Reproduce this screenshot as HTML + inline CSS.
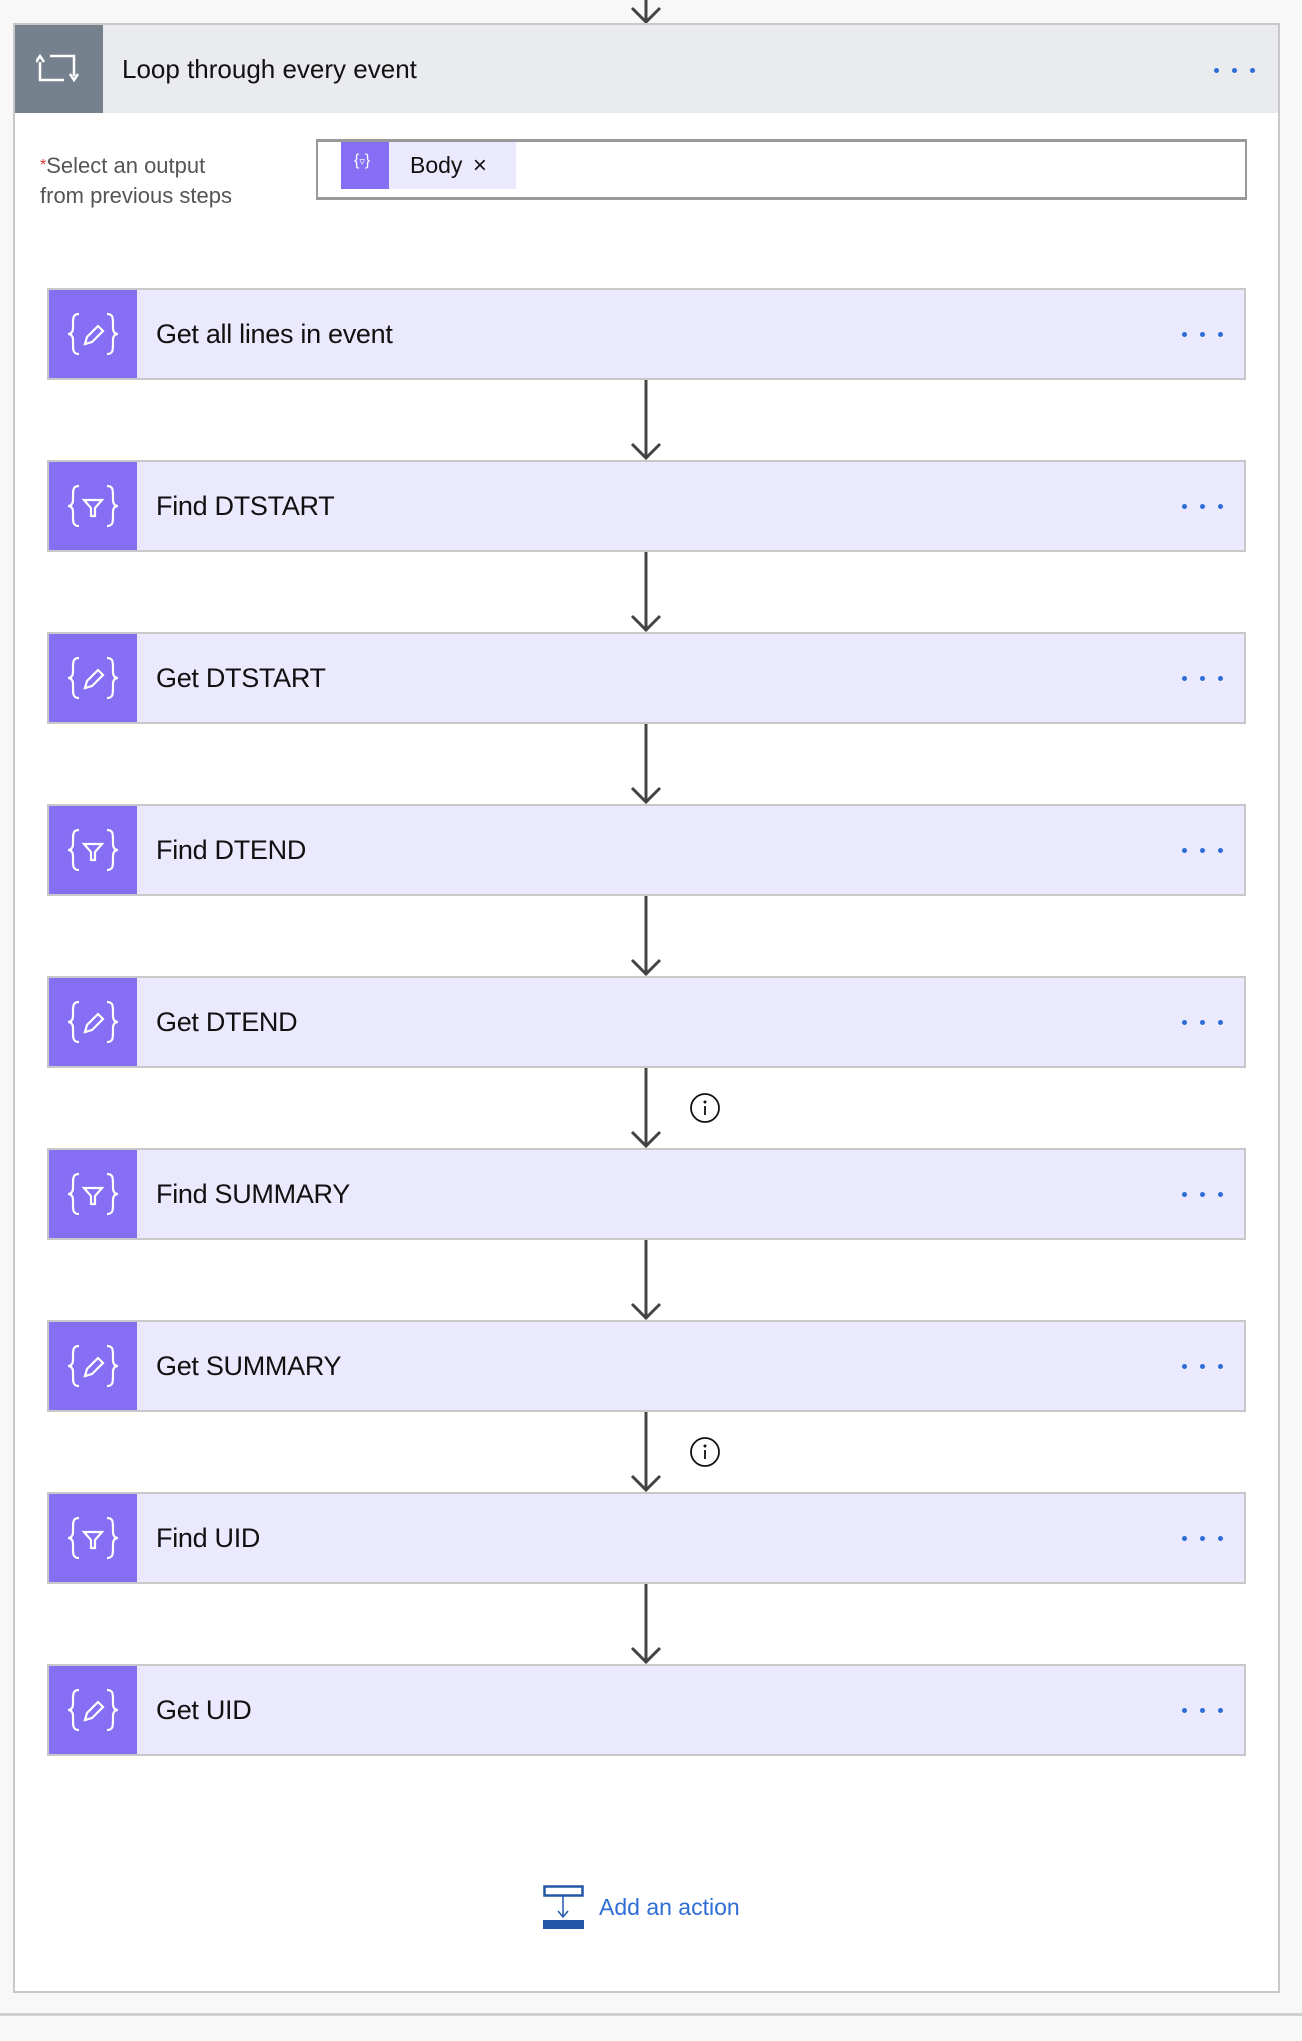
<!DOCTYPE html>
<html><head><meta charset="utf-8"><style>
*{margin:0;padding:0;box-sizing:border-box}
body{width:1302px;height:2041px;background:#f8f8f8;position:relative;overflow:hidden;font-family:"Liberation Sans",sans-serif}
.abs{position:absolute}
.cont{left:13px;top:23px;width:1267px;height:1970px;background:#fff;border:2px solid #c8c8c8}
.hdr{left:15px;top:25px;width:1263px;height:88px;background:#eaebef}
.card{position:absolute;left:47px;width:1199px;height:92px;background:#ebe9fd;border:2px solid #c8c8c8}
.card .ic{position:absolute;left:0;top:0;width:88px;height:88px;background:#866ef5}
.card .t{position:absolute;left:107px;top:0;line-height:88px;font-size:27px;color:#111;letter-spacing:-0.3px}
.dots{position:absolute;font-size:0}
.dots i{display:inline-block;width:5px;height:5px;border-radius:2.5px;background:#2e6dd5;margin-right:13px}
</style></head><body>
<svg class="abs" style="left:626px;top:0" width="40" height="24"><line x1="20" y1="0" x2="20" y2="22" stroke="#444" stroke-width="3"/><polyline points="6,8 20,22 34,8" fill="none" stroke="#444" stroke-width="3"/></svg>
<div class="abs cont"></div>
<div class="abs hdr"></div>
<div class="abs" style="left:15px;top:25px;width:88px;height:88px;background:#76818e"></div>
<svg class="abs" style="left:36px;top:52px" width="44" height="34" viewBox="0 0 44 34" fill="none" stroke="#fff" stroke-width="2.5"><polyline points="4,10 4,28 28,28"/><polyline points="0,10 4,4 8,10"/><polyline points="14,4 38,4 38,24"/><polyline points="34,22 38,28 42,22"/></svg>
<div class="abs" style="left:122px;top:54px;font-size:26px;color:#111">Loop through every event</div>
<div class="dots" style="left:1214px;top:68px"><i></i><i></i><i></i></div>
<div class="abs" style="left:40px;top:151px;font-size:22px;color:#555;line-height:30px"><span style="color:#d33;font-size:16px;vertical-align:top">*</span>Select an output<br>from previous steps</div>
<div class="abs" style="left:316px;top:139px;width:931px;height:61px;border:2px solid #999;border-top-width:3px;border-bottom-width:3px;background:#fff"></div>
<div class="abs" style="left:341px;top:142px;width:175px;height:47px;background:#ebe9fd"></div>
<div class="abs" style="left:341px;top:142px;width:48px;height:47px;background:#866ef5"></div>
<div class="abs" style="left:354px;top:152px;color:#fff;font-size:16px">{<span style="font-size:11px">▿</span>}</div>
<div class="abs" style="left:410px;top:152px;font-size:23px;color:#111">Body <span style="font-size:24px;margin-left:4px">×</span></div>
<div id="cards"></div>
<svg class="abs" style="left:543px;top:1885px" width="46" height="44"><rect x="1.5" y="1.5" width="38" height="9" fill="#fff" stroke="#2457a8" stroke-width="2.5"/><line x1="20" y1="10" x2="20" y2="32" stroke="#2457a8" stroke-width="1.5"/><polyline points="15,26 20,32 25,26" fill="none" stroke="#2457a8" stroke-width="1.5"/><rect x="0" y="35" width="41" height="9" fill="#2457a8"/></svg>
<div class="abs" style="left:599px;top:1894px;font-size:23px;color:#2e6dd5">Add an action</div>
<div class="abs" style="left:0;top:2013px;width:1302px;height:3px;background:#d0d0d0"></div>
<script>
var names=["Get all lines in event","Find DTSTART","Get DTSTART","Find DTEND","Get DTEND","Find SUMMARY","Get SUMMARY","Find UID","Get UID"];
var tops=[288,460,632,804,976,1148,1320,1492,1664];
var pencil='<svg width="88" height="88" viewBox="0 0 88 88" fill="none" stroke="#fff" stroke-width="2.2"><path d="M30 24c-6 0-6 4-6 10v4c0 4-2 6-5 6 3 0 5 2 5 6v4c0 6 0 10 6 10"/><path d="M58 24c6 0 6 4 6 10v4c0 4 2 6 5 6-3 0-5 2-5 6v4c0 6 0 10-6 10"/><path d="M36 54l2-7 11-11 5 5-11 11z M36 54l7-2"/></svg>';
var funnel='<svg width="88" height="88" viewBox="0 0 88 88" fill="none" stroke="#fff" stroke-width="2.2"><path d="M30 24c-6 0-6 4-6 10v4c0 4-2 6-5 6 3 0 5 2 5 6v4c0 6 0 10 6 10"/><path d="M58 24c6 0 6 4 6 10v4c0 4 2 6 5 6-3 0-5 2-5 6v4c0 6 0 10-6 10"/><path d="M35 38h18l-7 8v8h-4v-8z"/></svg>';
var h='';
for(var i=0;i<9;i++){
h+='<div class="card" style="top:'+tops[i]+'px"><div class="ic">'+(names[i].indexOf("Find")==0?funnel:pencil)+'</div><div class="t">'+names[i]+'</div><div class="dots" style="left:1133px;top:42px"><i></i><i></i><i></i></div></div>';
if(i<8){var y=tops[i]+92;h+='<svg class="abs" style="left:626px;top:'+y+'px" width="40" height="80"><line x1="20" y1="0" x2="20" y2="78" stroke="#444" stroke-width="3"/><polyline points="6,64 20,78 34,64" fill="none" stroke="#444" stroke-width="3"/></svg>';}
if(i==4||i==6){var y2=tops[i]+92+24;h+='<svg class="abs" style="left:689px;top:'+y2+'px" width="32" height="32"><circle cx="16" cy="16" r="14" fill="#fff" stroke="#111" stroke-width="1.8"/><circle cx="16" cy="10" r="1.5" fill="#111"/><line x1="16" y1="14" x2="16" y2="23" stroke="#111" stroke-width="1.8"/></svg>';}
}
document.getElementById('cards').innerHTML=h;
</script>
</body></html>
